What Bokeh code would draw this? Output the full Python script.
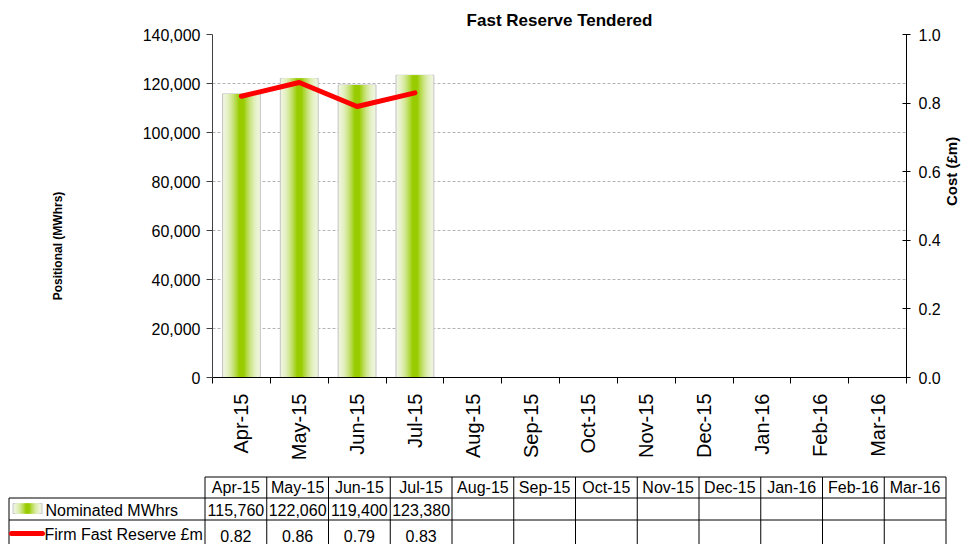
import math
from bokeh.plotting import figure
from bokeh.models import (Range1d, LinearAxis, FixedTicker, NumeralTickFormatter,
                          ColumnDataSource)
from bokeh.layouts import column
from bokeh.embed import file_html
from bokeh.resources import INLINE
from bokeh.core.properties import value

# ---------------- data ----------------
months = ["Apr-15", "May-15", "Jun-15", "Jul-15", "Aug-15", "Sep-15",
          "Oct-15", "Nov-15", "Dec-15", "Jan-16", "Feb-16", "Mar-16"]
nominated_mwh = [115760, 122060, 119400, 123380]
firm_cost_m = [0.82, 0.86, 0.79, 0.83]
left_ticks = [0, 20000, 40000, 60000, 80000, 100000, 120000, 140000]
right_ticks = [0.0, 0.2, 0.4, 0.6, 0.8, 1.0]
series_names = ["Nominated MWhrs", "Firm Fast Reserve £m"]
left_title = "Positional  (MWhrs)"
right_title = "Cost  (£m)"

FONT = "Liberation Sans"
W = 971
CH = 470
TH = 74

EDGE = (238, 245, 220)
CENTER = (153, 204, 0)
NBSP = "\u00a0"


def lerp(c1, c2, t):
    return "#%02x%02x%02x" % tuple(int(round(a + (b - a) * t)) for a, b in zip(c1, c2))


# ---------------- chart ----------------
p = figure(width=W, height=CH, x_range=Range1d(-0.5, len(months) - 0.5),
           y_range=Range1d(left_ticks[0], left_ticks[-1]),
           output_backend="svg", toolbar_location=None,
           min_border_left=212, min_border_right=63, min_border_top=34,
           min_border_bottom=93)
p.frame_align = False
p.outline_line_color = None
p.background_fill_color = "white"
p.border_fill_color = "white"

p.title.text = "Fast Reserve Tendered"
p.title.align = "center"
p.title.text_font = FONT
p.title.text_font_size = "17px"
p.title.text_font_style = "bold"
p.title.text_color = "black"
p.title.standoff = 10

# x axis
xa = p.xaxis[0]
xa.ticker = FixedTicker(ticks=list(range(len(months))),
                        minor_ticks=[i - 0.5 for i in range(len(months) + 1)])
xa.major_label_overrides = {i: m for i, m in enumerate(months)}
xa.major_label_orientation = math.pi / 2
xa.major_label_text_font = FONT
xa.major_label_text_font_size = "20px"
xa.major_label_text_color = "black"
xa.major_label_standoff = 10
xa.major_tick_out = 0
xa.major_tick_in = 0
xa.minor_tick_out = 6
xa.minor_tick_in = 0
xa.minor_tick_line_color = "black"
xa.axis_line_color = "black"

# left axis
ya = p.yaxis[0]
ya.ticker = FixedTicker(ticks=left_ticks)
ya.formatter = NumeralTickFormatter(format="0,0")
ya.major_label_text_font = FONT
ya.major_label_text_font_size = "16px"
ya.major_label_text_color = "black"
ya.major_tick_out = 6
ya.major_tick_in = 0
ya.minor_tick_out = 0
ya.minor_tick_in = 0
ya.major_label_standoff = 6
ya.axis_line_color = "#404040"
ya.major_tick_line_color = "#404040"
# trailing no-break spaces move the visible title below the frame centre, as in the original
ya.axis_label = left_title + NBSP * 23
ya.axis_label_text_font = FONT
ya.axis_label_text_font_size = "12px"
ya.axis_label_text_font_style = "bold"
ya.axis_label_text_color = "black"
ya.axis_label_standoff = 75

p.xgrid.visible = False
p.ygrid.ticker = FixedTicker(ticks=left_ticks)
p.ygrid.grid_line_color = "#b4b4b4"
p.ygrid.grid_line_dash = "3 2"

# right axis
p.extra_y_ranges = {"cost": Range1d(right_ticks[0], right_ticks[-1])}
ra = LinearAxis(y_range_name="cost", ticker=FixedTicker(ticks=right_ticks),
                formatter=NumeralTickFormatter(format="0.0"))
ra.major_label_text_font = FONT
ra.major_label_text_font_size = "16px"
ra.major_label_text_color = "black"
ra.major_tick_out = 4
ra.major_tick_in = 4
ra.minor_tick_out = 0
ra.minor_tick_in = 0
ra.major_label_standoff = 8
ra.axis_line_color = "black"
ra.axis_label = right_title + NBSP * 12
ra.axis_label_text_font = FONT
ra.axis_label_text_font_size = "15px"
ra.axis_label_text_font_style = "bold"
ra.axis_label_text_color = "black"
ra.axis_label_text_align = "center"
ra.axis_label_standoff = 8
try:
    ra.axis_label_orientation = math.pi / 2
except Exception:
    pass
p.add_layout(ra, "right")

# bars with horizontal gradient (nested layers)
src = ColumnDataSource(dict(x=list(range(len(nominated_mwh))), top=nominated_mwh,
                            cost=firm_cost_m))
BW = 0.655
N = 16
for i in range(N):
    t = i / (N - 1)
    w = BW * (1 - 0.85 * t)
    col = lerp(EDGE, CENTER, t ** 1.7)
    p.vbar(x="x", top="top", bottom=0, width=w, source=src, fill_color=col,
           line_color="#c4c4c4" if i == 0 else None, line_width=1)

p.line(x="x", y="cost", source=src, y_range_name="cost", line_color="#ff0000",
       line_width=5, line_cap="round", line_join="round")

# ---------------- data table ----------------
t = figure(width=W, height=TH, x_range=Range1d(0, W), y_range=Range1d(TH, 0),
           output_backend="svg", toolbar_location=None, min_border=0,
           x_axis_location=None, y_axis_location=None)
t.frame_align = False
t.grid.visible = False
t.outline_line_color = None
t.background_fill_color = "white"
t.border_fill_color = "white"

LEFT = 8.5
COL0 = 204.5
COLW = (945.0 - 204.0) / len(months)
RIGHT = COL0 + COLW * len(months)
Y_HEAD = 6.5
Y_R1 = 27.5
Y_R2 = 49.5
Y_BOT = TH + 2

# horizontal lines
hx0 = [COL0, LEFT, LEFT]
hx1 = [RIGHT, RIGHT, RIGHT]
hy = [Y_HEAD, Y_R1, Y_R2]
t.segment(x0=hx0, y0=hy, x1=hx1, y1=hy, line_color="black", line_width=1)
# vertical lines
vx = [LEFT] + [COL0 + k * COLW for k in range(len(months) + 1)]
vy0 = [Y_R1] + [Y_HEAD] * (len(months) + 1)
vy1 = [Y_BOT] * len(vx)
t.segment(x0=vx, y0=vy0, x1=vx, y1=vy1, line_color="black", line_width=1)

centers = [COL0 + (k + 0.5) * COLW for k in range(len(months))]
txt = dict(text_font=value(FONT), text_font_size="16px", text_color="black",
           text_align="center", text_baseline="middle")
t.text(x=centers, y=[(Y_HEAD + Y_R1) / 2] * len(months), text=months, **txt)
Y1T = (Y_R1 + Y_R2) / 2 + 1
t.text(x=centers[:len(nominated_mwh)], y=[Y1T] * len(nominated_mwh),
       text=["{:,}".format(v) for v in nominated_mwh], **txt)
Y2T = 65.0
t.text(x=centers[:len(firm_cost_m)], y=[Y2T] * len(firm_cost_m),
       text=["{:.2f}".format(v) for v in firm_cost_m], **txt)

# series labels
t.text(x=[45, 44], y=[Y1T, Y2T - 1], text=series_names,
       text_font=value(FONT), text_font_size="16px", text_color="black",
       text_align="left", text_baseline="middle")

# legend symbol: gradient box
NL = 10
for i in range(NL):
    f = i / (NL - 1)
    half = 14.5 * (1 - 0.85 * f)
    t.quad(left=[27 - half], right=[27 + half], top=[33.0], bottom=[43.0],
           fill_color=lerp(EDGE, CENTER, f ** 1.7),
           line_color="#c8c8c8" if i == 0 else None)
# legend symbol: red line
t.line(x=[11, 42], y=[63, 63], line_color="#ff0000", line_width=5,
       line_cap="round")

layout = column(p, t, spacing=0)
open("out.html", "w").write(file_html(layout, INLINE))
